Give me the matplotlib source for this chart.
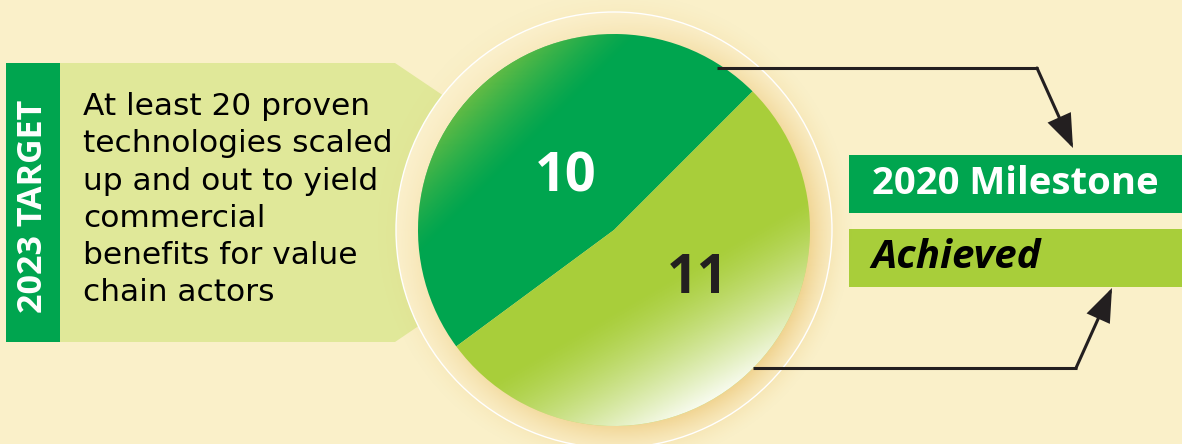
import numpy as np
import matplotlib
matplotlib.use("Agg")
import matplotlib.pyplot as plt
from matplotlib.patches import Polygon, Rectangle, Circle

# ---- data -------------------------------------------------------------
categories = ["2020 Milestone", "Achieved"]
values = [10, 11]
target_label = "2023 TARGET"
target_text = ("At least 20 proven\ntechnologies scaled\nup and out to yield\n"
               "commercial\nbenefits for value\nchain actors")

# ---- styling ----------------------------------------------------------
BG = "#FAF0C9"
DARK_GREEN = "#00A54F"
LIGHT_GREEN = "#A8CE3A"
BOX_GREEN = "#E0E899"
INK = "#231F20"

W, H = 1182, 444
fig = plt.figure(figsize=(W / 100, H / 100), dpi=100)
fig.patch.set_facecolor(BG)
ax = fig.add_axes([0, 0, 1, 1])
ax.set_facecolor(BG)


def Y(y):
    """Convert a top-down pixel row to the axes' bottom-up coordinate."""
    return H - y


cx, cy, R = 614, Y(230), 196
halo_r = 218

# ---- left target panel --------------------------------------------------
panel = Polygon([(60, Y(63)), (395, Y(63)), (601, Y(202)), (395, Y(342)), (60, Y(342))],
                closed=True, facecolor=BOX_GREEN, edgecolor="none", zorder=1)
ax.add_patch(panel)
ax.add_patch(Rectangle((6, Y(342)), 54, 279, facecolor=DARK_GREEN, edgecolor="none", zorder=2))
ax.text(33, Y(206), target_label, rotation=90, ha="center", va="center",
        color="white", fontsize=24.5, fontweight="bold", family="Open Sans", zorder=3)
ax.text(83, Y(92), target_text, ha="left", va="top", color="black",
        fontsize=22.5, family="DejaVu Sans", linespacing=1.36, zorder=3)

# ---- halo and soft glow around the pie ----------------------------------
ax.add_patch(Circle((cx, cy), halo_r, facecolor="#FCF3D2", edgecolor="none", zorder=4))

ext = 250
gx = np.linspace(-ext, ext, 500)
gy = np.linspace(-ext, ext, 500)
XX, YY = np.meshgrid(gx, gy)
rr = np.hypot(XX, YY)
ang = np.arctan2(YY, XX)
dirfac = 0.5 + 0.5 * np.cos(ang - np.deg2rad(-40))
alpha = np.clip((240 - rr) / (240 - R), 0, 1) ** 1.6 * (0.25 + 0.75 * dirfac) * 0.75
glow = np.zeros(XX.shape + (4,))
glow[..., 0] = 236 / 255
glow[..., 1] = 200 / 255
glow[..., 2] = 120 / 255
glow[..., 3] = alpha
ax.imshow(glow, extent=(cx - ext, cx + ext, cy - ext, cy + ext), origin="lower",
          interpolation="bilinear", zorder=5)
ax.add_patch(Circle((cx, cy), halo_r, facecolor="none", edgecolor="white", lw=1.0, zorder=6))

# ---- pie -----------------------------------------------------------------
wedges, _ = ax.pie(values, colors=[DARK_GREEN, LIGHT_GREEN], startangle=45,
                   counterclock=True, center=(cx, cy), radius=R, frame=True,
                   wedgeprops=dict(edgecolor="none", zorder=7))
for w in wedges:
    w.set_zorder(7)

# highlight on the dark slice toward its upper-left rim
proj_dark = (-XX + YY) / np.sqrt(2)
hl = np.zeros(XX.shape + (4,))
hl[..., 0] = 125 / 255
hl[..., 1] = 194 / 255
hl[..., 2] = 66 / 255
hl[..., 3] = np.clip((proj_dark - 120) / 76, 0, 1) ** 1.3 * 0.8
im1 = ax.imshow(hl, extent=(cx - ext, cx + ext, cy - ext, cy + ext), origin="lower",
                interpolation="bilinear", zorder=8)
im1.set_clip_path(wedges[0])

# fade to white on the light slice toward its lower-right rim
d = np.array([np.cos(np.deg2rad(-60)), np.sin(np.deg2rad(-60))])
proj_light = XX * d[0] + YY * d[1]
wh = np.ones(XX.shape + (4,))
wh[..., 3] = np.clip((proj_light - 70) / 126, 0, 1) ** 1.3 * 0.92
im2 = ax.imshow(wh, extent=(cx - ext, cx + ext, cy - ext, cy + ext), origin="lower",
                interpolation="bilinear", zorder=8)
im2.set_clip_path(wedges[1])

ax.text(566, Y(178), f"{values[0]}", ha="center", va="center", color="white",
        fontsize=39, fontweight="bold", family="Open Sans", zorder=9)
ax.text(698, Y(279), f"{values[1]}", ha="center", va="center", color=INK,
        fontsize=39, fontweight="bold", family="Open Sans", zorder=9)

# ---- right-hand milestone boxes ------------------------------------------
ax.add_patch(Rectangle((849, Y(213)), W - 849, 58, facecolor=DARK_GREEN,
                       edgecolor="none", zorder=3))
ax.add_patch(Rectangle((849, Y(287)), W - 849, 58, facecolor=LIGHT_GREEN,
                       edgecolor="none", zorder=3))
ax.text(872, Y(184), categories[0], ha="left", va="center", color="white",
        fontsize=27.5, fontweight="bold", family="Open Sans", zorder=4)
ax.text(871, Y(258), categories[1], ha="left", va="center", color="black",
        fontsize=29, fontweight="bold", style="italic", family="Open Sans", zorder=4)

# ---- connector arrows ------------------------------------------------------
arrow_style = dict(arrowstyle="-|>,head_length=1.0,head_width=0.38", lw=2.2,
                   color=INK, mutation_scale=20, shrinkA=0, shrinkB=0,
                   joinstyle="miter")
ax.plot([717, 1038], [Y(68), Y(68)], color=INK, lw=2.2, solid_capstyle="butt", zorder=10)
ax.annotate("", xy=(1073, Y(148)), xytext=(1037, Y(68)), arrowprops=arrow_style, zorder=10)
ax.plot([753, 1077], [Y(368), Y(368)], color=INK, lw=2.2, solid_capstyle="butt", zorder=10)
ax.annotate("", xy=(1112, Y(288)), xytext=(1076, Y(368)), arrowprops=arrow_style, zorder=10)

ax.set_xlim(0, W)
ax.set_ylim(0, H)
ax.set_aspect("auto")
ax.axis("off")

fig.savefig("out.png", dpi=100, facecolor=BG)
